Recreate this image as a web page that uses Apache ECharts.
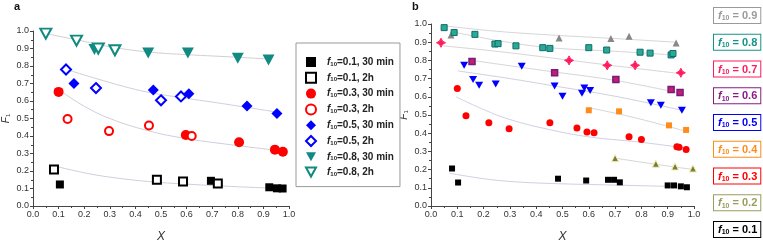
<!DOCTYPE html>
<html><head><meta charset="utf-8">
<script src="https://cdn.jsdelivr.net/npm/echarts@6/dist/echarts.min.js"></script>
<style>html,body{margin:0;padding:0;background:#fff}#c{width:763px;height:248px}</style>
</head><body><div id="c"></div>
<script>
// ---------- Panel a data ----------
const a_f01_30 = [[0.105,0.123],[0.695,0.144],[0.923,0.107],[0.953,0.101],[0.975,0.100]];
const a_f01_2h = [[0.082,0.208],[0.484,0.150],[0.586,0.140],[0.722,0.128]];
const a_f03_30 = [[0.100,0.652],[0.597,0.406],[0.805,0.364],[0.945,0.322],[0.976,0.310]];
const a_f03_2h = [[0.135,0.497],[0.297,0.428],[0.453,0.460],[0.620,0.400]];
const a_f05_30 = [[0.160,0.700],[0.470,0.663],[0.609,0.642],[0.836,0.572],[0.953,0.529]];
const a_f05_2h = [[0.129,0.780],[0.246,0.674],[0.500,0.604],[0.578,0.626]];
const a_f08_30 = [[0.240,0.895],[0.450,0.875],[0.605,0.875],[0.800,0.845],[0.920,0.835]];
const a_f08_2h = [[0.050,0.985],[0.170,0.945],[0.255,0.900],[0.320,0.890]];
const a_fit01 = [[0.08,0.23],[0.2,0.19],[0.3,0.165],[0.45,0.14],[0.6,0.125],[0.8,0.11],[0.97,0.1]];
const a_fit03 = [[0.12,0.645],[0.2,0.57],[0.3,0.5],[0.45,0.43],[0.6,0.385],[0.8,0.345],[0.97,0.315]];
const a_fit05 = [[0.13,0.78],[0.25,0.727],[0.35,0.685],[0.45,0.65],[0.6,0.615],[0.7,0.594],[0.85,0.56],[0.96,0.535]];
const a_fit08 = [[0.05,0.985],[0.17,0.95],[0.3,0.91],[0.45,0.88],[0.6,0.865],[0.8,0.85],[0.92,0.84]];
const a_legendNames = ['0.1, 30 min','0.1, 2h','0.3, 30 min','0.3, 2h','0.5, 30 min','0.5, 2h','0.8, 30 min','0.8, 2h'];

// ---------- Panel b data ----------
const b_f09 = [[0.076,0.94],[0.487,0.923],[0.684,0.92],[0.753,0.933],[0.932,0.895]];
const b_f08 = [[0.05,0.98],[0.088,0.953],[0.167,0.943],[0.243,0.89],[0.255,0.892],[0.323,0.88],[0.425,0.87],[0.452,0.866],[0.60,0.87],[0.668,0.857],[0.795,0.845],[0.833,0.84],[0.913,0.83],[0.92,0.838]];
const b_f07 = [[0.038,0.897],[0.525,0.80],[0.67,0.773],[0.776,0.773],[0.95,0.732]];
const b_f06 = [[0.156,0.794],[0.47,0.732],[0.703,0.695],[0.913,0.64],[0.947,0.624]];
const b_f05 = [[0.126,0.773],[0.16,0.695],[0.183,0.664],[0.246,0.67],[0.345,0.768],[0.47,0.66],[0.50,0.603],[0.574,0.62],[0.583,0.648],[0.605,0.634],[0.836,0.567],[0.874,0.553],[0.954,0.526]];
const b_f04 = [[0.60,0.526],[0.715,0.52],[0.905,0.443],[0.97,0.418]];
const b_f03 = [[0.10,0.645],[0.133,0.496],[0.22,0.458],[0.297,0.424],[0.452,0.458],[0.555,0.428],[0.593,0.407],[0.62,0.402],[0.753,0.381],[0.80,0.366],[0.935,0.325],[0.943,0.323],[0.97,0.31]];
const b_f02 = [[0.70,0.263],[0.855,0.232],[0.928,0.217],[0.996,0.206]];
const b_f01 = [[0.08,0.206],[0.103,0.129],[0.483,0.15],[0.59,0.14],[0.673,0.144],[0.696,0.144],[0.718,0.13],[0.90,0.113],[0.924,0.113],[0.95,0.108],[0.973,0.103]];
const b_fit09 = [[0.05,0.99],[0.25,0.96],[0.45,0.94],[0.7,0.92],[0.93,0.90]];
const b_fit08 = [[0.09,0.955],[0.25,0.91],[0.45,0.87],[0.7,0.85],[0.92,0.83]];
const b_fit07 = [[0.046,0.88],[0.25,0.85],[0.45,0.815],[0.7,0.77],[0.95,0.727]];
const b_fit06 = [[0.156,0.80],[0.45,0.74],[0.7,0.69],[0.947,0.62]];
const b_fit05 = [[0.103,0.742],[0.3,0.7],[0.45,0.664],[0.7,0.603],[0.954,0.526]];
const b_fit04 = [[0.6,0.54],[0.7,0.51],[0.83,0.465],[0.97,0.41]];
const b_fit03 = [[0.095,0.6],[0.2,0.53],[0.3,0.475],[0.45,0.42],[0.6,0.38],[0.8,0.35],[0.97,0.318]];
const b_fit02 = [[0.70,0.263],[0.85,0.23],[1.0,0.2]];
const b_fit01 = [[0.07,0.18],[0.2,0.15],[0.3,0.135],[0.45,0.124],[0.7,0.115],[0.98,0.105]];
const b_legendLabels = ['0.9','0.8','0.7','0.6','0.5','0.4','0.3','0.2','0.1'];
const b_legendColors = ['#9a9a9a','#14938a','#ff1a5c','#8a1a8a','#0000ff','#ff8c1a','#ff0000','#9c9c5c','#000000'];

const TEAL = '#118a82';
const chart = echarts.init(document.getElementById('c'), null, {renderer:'canvas'});

function axisX(grid){
  return {type:'value', gridIndex:grid, min:0, max:1, interval:0.1,
    name:'X', nameLocation:'middle', nameGap:25,
    nameTextStyle:{fontStyle:'italic', fontSize:12, color:'#333', fontFamily:'Liberation Sans'},
    axisLine:{show:true, onZero:false, lineStyle:{color:'#444', width:1}},
    axisTick:{show:true, length:3, inside:false, lineStyle:{color:'#444'}},
    minorTick:{show:true, splitNumber:2, length:2, lineStyle:{color:'#444'}},
    splitLine:{show:false},
    axisLabel:{fontSize:9, color:'#333', margin:4, fontFamily:'Liberation Sans', formatter:v=>v.toFixed(1)}};
}
function axisY(grid, gap){
  return {type:'value', gridIndex:grid, min:0, max:1, interval:0.1,
    name:'{i|F}{s|1}', nameLocation:'middle', nameGap:gap, nameRotate:90,
    nameTextStyle:{rich:{i:{fontStyle:'italic', fontSize:10, color:'#333', fontFamily:'Liberation Sans'}, s:{fontSize:6, color:'#333', padding:[4,0,0,0], fontFamily:'Liberation Sans'}}},
    axisLine:{show:true, onZero:false, lineStyle:{color:'#444', width:1}},
    axisTick:{show:true, length:3, lineStyle:{color:'#444'}},
    minorTick:{show:true, splitNumber:2, length:2, lineStyle:{color:'#444'}},
    splitLine:{show:false},
    axisLabel:{fontSize:9, color:'#333', margin:4, fontFamily:'Liberation Sans', formatter:v=>v.toFixed(1)}};
}
function fit(data, xi, color){
  return {type:'line', xAxisIndex:xi, yAxisIndex:xi, data:data, smooth:0.4, showSymbol:false, symbol:'none', silent:true,
    lineStyle:{color:color||'#cfcfdc', width:1}, z:1, legendHoverLink:false};
}
function sc(name, data, xi, symbol, size, color, open, extra){
  const s = {type:'scatter', name:name, xAxisIndex:xi, yAxisIndex:xi, data:data, symbol:symbol, symbolSize:size, z:3,
    itemStyle: open ? {color:'#ffffff', borderColor:color, borderWidth:2, opacity:1} : {color:color, opacity:1}};
  if (extra) Object.assign(s.itemStyle, extra);
  return s;
}
const tri = 'path://M0,0 L10,0 L5,9 Z';
const star4 = 'path://M5,0 Q6,4 10,5 Q6,6 5,10 Q4,6 0,5 Q4,4 5,0 Z';

const series = [
  fit(a_fit01,0), fit(a_fit03,0), fit(a_fit05,0), fit(a_fit08,0,'#d0d0d0'),
  sc(a_legendNames[0], a_f01_30, 0, 'rect', 8, '#000', false),
  sc(a_legendNames[1], a_f01_2h, 0, 'rect', 8, '#000', true),
  sc(a_legendNames[2], a_f03_30, 0, 'circle', 10, '#ff0000', false),
  sc(a_legendNames[3], a_f03_2h, 0, 'circle', 8, '#ff0000', true),
  sc(a_legendNames[4], a_f05_30, 0, 'diamond', 11, '#0000ff', false),
  sc(a_legendNames[5], a_f05_2h, 0, 'diamond', 10, '#0000ff', true),
  sc(a_legendNames[6], a_f08_30, 0, tri, [12,11], TEAL, false),
  sc(a_legendNames[7], a_f08_2h, 0, tri, [11,10], TEAL, true),
  // panel b
  fit(b_fit09,1,'#d6d6d6'), fit(b_fit08,1,'#d6d6d6'), fit(b_fit07,1,'#d6d6d6'), fit(b_fit06,1,'#d6d6d6'),
  fit(b_fit05,1,'#d0d0e0'), fit(b_fit04,1,'#d6d6d6'), fit(b_fit03,1,'#d0d0e4'), fit(b_fit02,1,'#d6d6d6'), fit(b_fit01,1,'#d0d0e0'),
  sc('b0.9', b_f09, 1, 'triangle', 7, '#888888', false),
  sc('b0.8', b_f08, 1, 'rect', 6, '#2aa898', false, {borderColor:'#0a6e66', borderWidth:1}),
  sc('b0.7', b_f07, 1, star4, 9, '#ff1a5c', false, {borderColor:'#ff1a5c', borderWidth:1}),
  sc('b0.6', b_f06, 1, 'rect', 6, '#c0206e', false, {borderColor:'#7a1a7a', borderWidth:1.5}),
  sc('b0.5', b_f05, 1, tri, [8,7], '#0000ff', false),
  sc('b0.4', b_f04, 1, 'rect', 6, '#ff8c1a', false),
  sc('b0.3', b_f03, 1, 'circle', 7, '#ff0000', false),
  sc('b0.2', b_f02, 1, 'triangle', 7, '#7a7a3a', false, {borderColor:'#f0f0b0', borderWidth:1}),
  sc('b0.1', b_f01, 1, 'rect', 6, '#000000', false)
];

const rightLegend = b_legendLabels.map((lab, i) => ({
  type:'text', left:713, top: 7 + i*26.75,
  style:{
    text:'{f|f}{s|10}{t| = ' + lab + '}',
    fill:b_legendColors[i],
    borderColor:b_legendColors[i], borderWidth:1, padding:[2,3,1,4],
    backgroundColor:'#fff',
    rich:{
      f:{fontStyle:'italic', fontWeight:'bold', fontSize:11, fill:b_legendColors[i], fontFamily:'Liberation Sans'},
      s:{fontWeight:'bold', fontSize:7, fill:b_legendColors[i], padding:[5,0,0,0], fontFamily:'Liberation Sans'},
      t:{fontWeight:'bold', fontSize:11, fill:b_legendColors[i], fontFamily:'Liberation Sans'}
    }
  }
}));

chart.setOption({
  backgroundColor:'#ffffff',
  animation:false,
  grid:[
    {left:33, right:474, top:31, bottom:30, containLabel:false},
    {left:431, right:69, top:24, bottom:30, containLabel:false}
  ],
  xAxis:[axisX(0), axisX(1)],
  yAxis:[axisY(0,22), axisY(1,22)],
  legend:{
    data:a_legendNames, orient:'vertical', left:296, top:43, width:100,
    padding:[14,6,9,9], itemGap:4.8, itemWidth:10, itemHeight:10,
    borderColor:'#999', borderWidth:1, backgroundColor:'#fff',
    formatter: n => '{f|f}{s|10}{t|=' + n + '}',
    textStyle:{padding:[0,0,0,6], rich:{
      f:{fontStyle:'italic', fontWeight:'bold', fontSize:10, color:'#222', fontFamily:'Liberation Sans'},
      s:{fontWeight:'bold', fontSize:6, color:'#222', padding:[4,0,0,0], fontFamily:'Liberation Sans'},
      t:{fontWeight:'bold', fontSize:10, color:'#222', fontFamily:'Liberation Sans'}
    }},
    selectedMode:false
  },
  graphic:[
    {type:'text', left:14, top:1, style:{text:'a', font:'bold 11px Liberation Sans', fill:'#111'}},
    {type:'text', left:412, top:1, style:{text:'b', font:'bold 11px Liberation Sans', fill:'#111'}}
  ].concat(rightLegend),
  series:series
});
</script></body></html>
